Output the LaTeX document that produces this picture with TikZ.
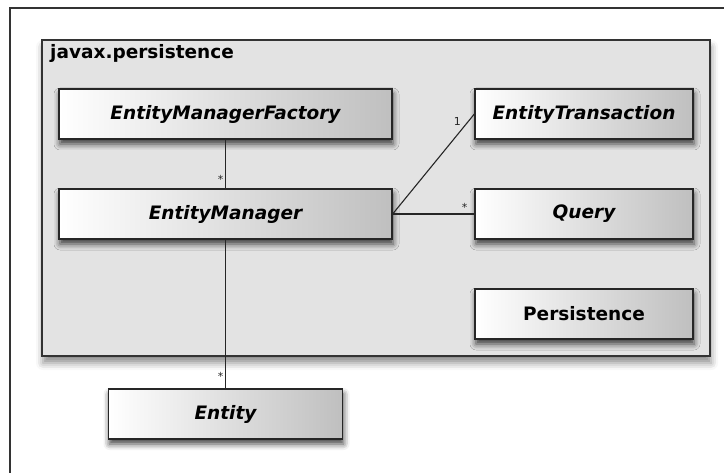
\documentclass[tikz,border=0pt]{standalone}
\usepackage{fontspec}
\setmainfont{DejaVu Sans}
\usetikzlibrary{positioning, shadows.blur}
\tikzstyle{cls} = [rectangle, 
draw=black!85, 
line width=1.3pt, 
minimum height=50pt, 
inner sep=0pt, 
left color=white, right color=black!25, 
blur shadow={shadow xshift=1pt, shadow yshift=-5pt, shadow blur radius=6pt, shadow opacity=75}, 
font=\fontsize{18.5}{20}\selectfont\bfseries\itshape]
\tikzstyle{assoc} = [line width=1.1pt, black!85]
\tikzstyle{mult} = [font=\fontsize{11}{11}\selectfont, inner sep=1.5pt]

\begin{document}
\begin{tikzpicture}[x=1pt, y=-1pt]
        \useasboundingbox (0,0) rectangle (724,473);
        \draw[line width=1.2pt, black!80] (724,8) -- (10,8) -- (10,473);

        % package frame
        \draw[line width=1.2pt, black!80, fill=black!11, 
            blur shadow={shadow xshift=1pt, shadow yshift=-7pt, shadow blur radius=7pt, shadow opacity=45}] 
            (42,40) rectangle (710,356);
        \node[anchor=base west, inner sep=0pt, font=\fontsize{18.5}{20}\selectfont\bfseries] (pkgname) at (50,59) {javax.persistence};

        \node[cls, minimum width=333pt] (emf) at (225.5,114) {EntityManagerFactory};
        \node[cls, minimum width=333pt] (em) at (225.5,214) {EntityManager};
        \node[cls, minimum width=218pt] (et) at (584,114) {EntityTransaction};
        \node[cls, minimum width=218pt] (query) at (584,214) {Query};
        \node[cls, minimum width=218pt, font=\fontsize{18.5}{20}\selectfont\bfseries] (pers) at (584,314) {Persistence};
        \node[cls, minimum width=234pt] (entity) at (225.5,414) {Entity};

        \draw[assoc] (emf) -- (em) node[mult, pos=0.82, left] {*};
        \draw[assoc] (em) -- (entity) node[mult, pos=0.92, left] {*};
        \draw[assoc] (em.east) -- (et.west) node[mult, pos=0.86, above left] {1};
        \draw[assoc] (em.east) -- (query.west) node[mult, pos=0.88, above] {*};
    \end{tikzpicture}
\end{document}
